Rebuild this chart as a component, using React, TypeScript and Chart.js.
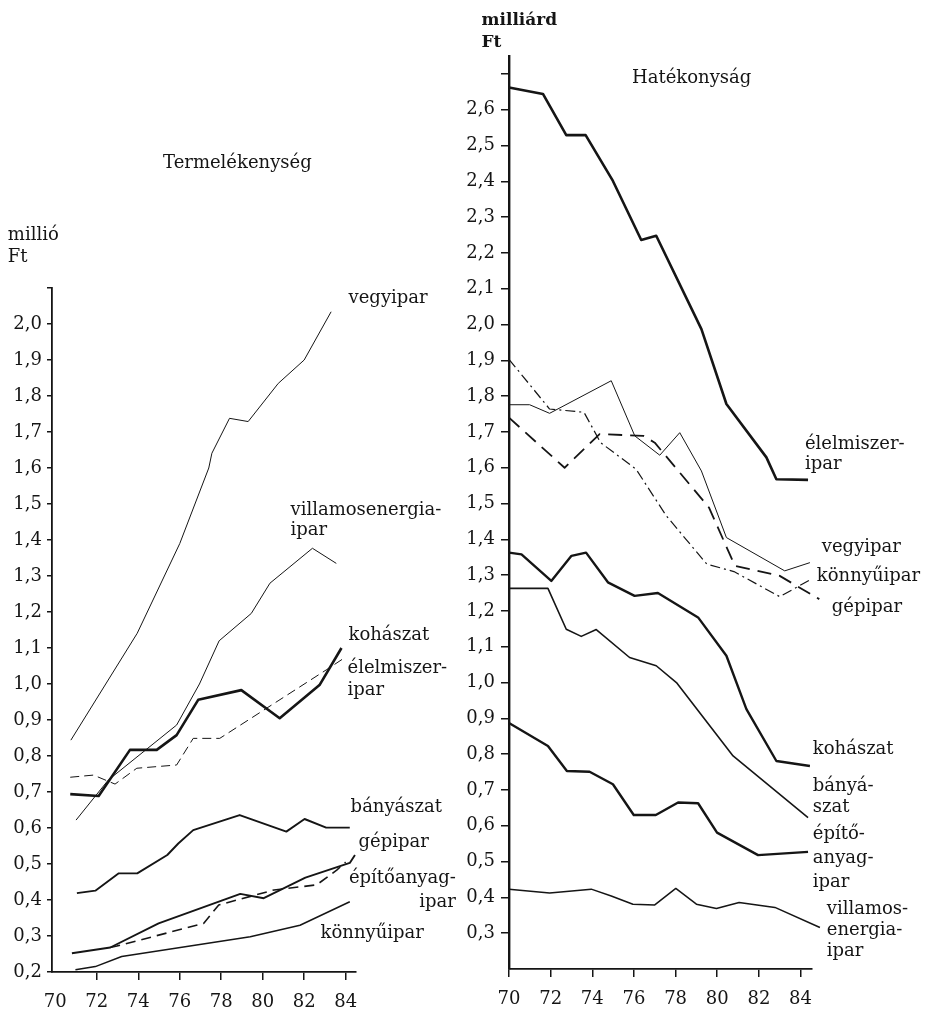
import React, { useEffect, useRef } from "react";
import { Chart, registerables } from "chart.js";

Chart.register(...registerables);

const FONT = "'DejaVu Serif', 'Liberation Serif', serif";
const INK = "#151515";

// ---------- Left panel: Termelékenység (millió Ft) ----------
const leftVegyiparX = [70.75, 73.95, 76.0, 77.4, 77.55, 78.4, 79.3, 80.75, 82.0, 83.3];
const leftVegyiparY = [0.844, 1.141, 1.39, 1.6, 1.641, 1.738, 1.729, 1.835, 1.9, 2.034];

const leftVillamosX = [71.0, 72.55, 75.85, 76.95, 77.9, 79.45, 80.35, 82.4, 83.55];
const leftVillamosY = [0.622, 0.733, 0.886, 1.0, 1.12, 1.196, 1.28, 1.377, 1.335];

const leftKohaszatX = [70.72, 72.09, 73.6, 74.89, 75.85, 76.89, 78.97, 80.82, 82.74, 83.8];
const leftKohaszatY = [0.694, 0.689, 0.817, 0.817, 0.858, 0.956, 0.983, 0.905, 0.997, 1.1];

const leftElelmiszerX = [70.72, 71.84, 72.88, 73.93, 75.85, 76.65, 77.93, 83.06, 83.9];
const leftElelmiszerY = [0.741, 0.747, 0.722, 0.766, 0.775, 0.849, 0.849, 1.039, 1.071];

const leftBanyaszatX = [71.04, 71.93, 73.06, 73.95, 75.4, 75.93, 76.65, 78.89, 81.14, 82.02, 83.06, 84.2];
const leftBanyaszatY = [0.419, 0.426, 0.474, 0.474, 0.525, 0.557, 0.594, 0.636, 0.59, 0.625, 0.601, 0.601];

const leftGepiparX = [70.8, 72.65, 74.98, 78.92, 80.05, 82.06, 84.2, 84.45];
const leftGepiparY = [0.252, 0.268, 0.335, 0.417, 0.405, 0.462, 0.503, 0.525];

const leftEpitoX = [72.65, 72.97, 77.15, 77.88, 80.55, 82.6, 83.57, 84.0];
const leftEpitoY = [0.268, 0.272, 0.335, 0.386, 0.428, 0.442, 0.483, 0.505];

const leftKonnyuX = [70.97, 71.93, 73.2, 79.4, 81.8, 84.2];
const leftKonnyuY = [0.206, 0.215, 0.243, 0.298, 0.33, 0.395];

const leftYTickValues = [0.2, 0.3, 0.4, 0.5, 0.6, 0.7, 0.8, 0.9, 1.0, 1.1, 1.2, 1.3, 1.4, 1.5, 1.6, 1.7, 1.8, 1.9, 2.0, 2.1];
const leftYTickLabels = ["0,2", "0,3", "0,4", "0,5", "0,6", "0,7", "0,8", "0,9", "1,0", "1,1", "1,2", "1,3", "1,4", "1,5", "1,6", "1,7", "1,8", "1,9", "2,0", ""];

// ---------- Right panel: Hatékonyság (milliárd Ft) ----------
const rightElelmiszerX = [70, 71.63, 72.75, 73.68, 74.99, 76.35, 77.07, 79.24, 80.44, 82.36, 82.84, 84.36];
const rightElelmiszerY = [2.662, 2.644, 2.529, 2.529, 2.401, 2.236, 2.248, 1.987, 1.778, 1.629, 1.568, 1.566];

const rightVegyiparX = [70, 70.99, 71.95, 74.91, 76.04, 77.24, 78.2, 79.24, 80.44, 83.24, 84.45];
const rightVegyiparY = [1.776, 1.776, 1.752, 1.843, 1.689, 1.635, 1.698, 1.591, 1.405, 1.312, 1.335];

const rightKonnyuX = [70, 72.67, 74.35, 76.45, 77.0, 79.6, 80.85, 83.0, 84.9];
const rightKonnyuY = [1.74, 1.6, 1.694, 1.689, 1.67, 1.489, 1.326, 1.298, 1.233];

const rightGepiparX = [70, 71.95, 73.6, 74.4, 76.1, 77.55, 78.5, 79.5, 80.8, 83.0, 84.4];
const rightGepiparY = [1.903, 1.764, 1.755, 1.67, 1.596, 1.466, 1.4, 1.331, 1.31, 1.24, 1.285];

const rightKohaszatX = [70, 70.6, 72.03, 73.0, 73.7, 74.75, 76.03, 77.15, 79.08, 80.44, 81.4, 82.84, 84.45];
const rightKohaszatY = [1.363, 1.358, 1.284, 1.354, 1.363, 1.28, 1.242, 1.25, 1.182, 1.075, 0.926, 0.781, 0.767];

const rightBanyaszatX = [70, 71.87, 72.75, 73.47, 74.19, 75.79, 77.07, 78.04, 80.76, 84.36];
const rightBanyaszatY = [1.263, 1.263, 1.149, 1.129, 1.148, 1.07, 1.047, 1.0, 0.795, 0.623];

const rightEpitoX = [70, 71.87, 72.78, 73.87, 74.99, 75.99, 77.05, 78.12, 79.08, 79.99, 81.96, 84.36];
const rightEpitoY = [0.887, 0.823, 0.753, 0.751, 0.716, 0.63, 0.63, 0.665, 0.663, 0.581, 0.518, 0.527];

const rightVillamosX = [70, 71.95, 73.95, 74.91, 75.95, 77.0, 78.01, 79.0, 79.96, 81.05, 82.77, 84.93];
const rightVillamosY = [0.423, 0.412, 0.423, 0.404, 0.381, 0.379, 0.425, 0.381, 0.369, 0.386, 0.372, 0.316];

const rightYTickValues = [0.3, 0.4, 0.5, 0.6, 0.7, 0.8, 0.9, 1.0, 1.1, 1.2, 1.3, 1.4, 1.5, 1.6, 1.7, 1.8, 1.9, 2.0, 2.1, 2.2, 2.3, 2.4, 2.5, 2.6, 2.7];
const rightYTickLabels = ["0,3", "0,4", "0,5", "0,6", "0,7", "0,8", "0,9", "1,0", "1,1", "1,2", "1,3", "1,4", "1,5", "1,6", "1,7", "1,8", "1,9", "2,0", "2,1", "2,2", "2,3", "2,4", "2,5", "2,6", ""];

// shared x ticks (years)
const xTickValues = [70, 72, 74, 76, 78, 80, 82, 84];
const xTickLabels = ["70", "72", "74", "76", "78", "80", "82", "84"];

type Ann = { lines: string[]; x: number; y: number; align?: CanvasTextAlign; bold?: boolean; size?: number; lh?: number };

const pts = (xs: number[], ys: number[]) => xs.map((x, i) => ({ x, y: ys[i] }));

function series(xs: number[], ys: number[], width: number, dash: number[] = []) {
  return {
    data: pts(xs, ys),
    borderColor: INK,
    borderWidth: width,
    borderDash: dash,
    pointRadius: 0,
    tension: 0,
    fill: false,
    clip: false as any,
    borderJoinStyle: "round" as CanvasLineJoin,
  };
}

const leftDatasets = () => [
  series(leftVegyiparX, leftVegyiparY, 1),
  series(leftVillamosX, leftVillamosY, 1),
  series(leftElelmiszerX, leftElelmiszerY, 1, [9, 5]),
  series(leftKohaszatX, leftKohaszatY, 2.6),
  series(leftBanyaszatX, leftBanyaszatY, 1.9),
  series(leftEpitoX, leftEpitoY, 1.6, [10, 6]),
  series(leftGepiparX, leftGepiparY, 1.9),
  series(leftKonnyuX, leftKonnyuY, 1.5),
];

const rightDatasets = () => [
  series(rightElelmiszerX, rightElelmiszerY, 2.6),
  series(rightVegyiparX, rightVegyiparY, 1),
  series(rightKonnyuX, rightKonnyuY, 1.8, [14, 8]),
  series(rightGepiparX, rightGepiparY, 1.2, [10, 4, 2, 4]),
  series(rightKohaszatX, rightKohaszatY, 2.4),
  series(rightBanyaszatX, rightBanyaszatY, 1.6),
  series(rightEpitoX, rightEpitoY, 2.4),
  series(rightVillamosX, rightVillamosY, 1.5),
];

const leftAnnotations: Ann[] = [
  { lines: ["Termelékenység"], x: 78.78, y: 2.447, align: "center" },
  { lines: ["millió", "Ft"], x: 67.71, y: 2.247, lh: 22 },
  { lines: ["vegyipar"], x: 84.14, y: 2.072 },
  { lines: ["villamosenergia-", "ipar"], x: 81.34, y: 1.483, lh: 20 },
  { lines: ["kohászat"], x: 84.14, y: 1.136 },
  { lines: ["élelmiszer-", "ipar"], x: 84.09, y: 1.044, lh: 22 },
  { lines: ["bányászat"], x: 84.24, y: 0.658 },
  { lines: ["gépipar"], x: 84.62, y: 0.561 },
  { lines: ["építőanyag-", "ipar"], x: 89.31, y: 0.461, align: "right", lh: 24 },
  { lines: ["könnyűipar"], x: 82.79, y: 0.308 },
];

const rightAnnotations: Ann[] = [
  { lines: ["milliárd", "Ft"], x: 68.68, y: 2.85, bold: true, size: 17, lh: 22 },
  { lines: ["Hatékonyság"], x: 78.77, y: 2.688, align: "center" },
  { lines: ["élelmiszer-", "ipar"], x: 84.21, y: 1.666, lh: 20 },
  { lines: ["vegyipar"], x: 85.02, y: 1.378 },
  { lines: ["könnyűipar"], x: 84.78, y: 1.297 },
  { lines: ["gépipar"], x: 85.5, y: 1.211 },
  { lines: ["kohászat"], x: 84.59, y: 0.814 },
  { lines: ["bányá-", "szat"], x: 84.59, y: 0.711, lh: 21 },
  { lines: ["építő-", "anyag-", "ipar"], x: 84.59, y: 0.577, lh: 24 },
  { lines: ["villamos-", "energia-", "ipar"], x: 85.26, y: 0.367, lh: 21 },
];

const labelPlugin = {
  id: "seriesLabels",
  afterDraw(chart: any, _args: any, opts: any) {
    const { ctx, scales } = chart;
    const xs = scales.x;
    const ys = scales.y;
    ctx.save();
    ctx.fillStyle = INK;
    ctx.textBaseline = "middle";
    for (const a of (opts.items || []) as Ann[]) {
      ctx.font = `${a.bold ? "bold " : ""}${a.size ?? 18}px ${FONT}`;
      ctx.textAlign = a.align ?? "left";
      const px = xs.getPixelForValue(a.x);
      const py = ys.getPixelForValue(a.y);
      a.lines.forEach((t, i) => ctx.fillText(t, px, py + i * (a.lh ?? 21)));
    }
    ctx.restore();
  },
};

type PanelSpec = {
  datasets: any[];
  annotations: Ann[];
  xMin: number;
  xMax: number;
  yMin: number;
  yMax: number;
  yTicks: number[];
  yLabels: string[];
  yAxisWidth: number;
  xAxisHeight: number;
  padding: { top: number; right: number; bottom: number; left: number };
  yTickLen: number;
  yPad: number;
  yBorder: number;
  xBorder: number;
  hideFirstXTick: boolean;
};

function buildConfig(p: PanelSpec): any {
  const tickFont = { family: FONT, size: 18 };
  return {
    type: "line",
    data: { datasets: p.datasets },
    plugins: [labelPlugin],
    options: {
      animation: false,
      responsive: false,
      maintainAspectRatio: false,
      events: [],
      layout: { padding: p.padding },
      plugins: {
        legend: { display: false },
        tooltip: { enabled: false },
        title: { display: false },
        seriesLabels: { items: p.annotations },
      },
      scales: {
        x: {
          type: "linear",
          min: p.xMin,
          max: p.xMax,
          afterBuildTicks: (s: any) => {
            s.ticks = xTickValues.map((v) => ({ value: v }));
          },
          afterFit: (s: any) => {
            s.height = p.xAxisHeight;
          },
          ticks: {
            autoSkip: false,
            maxRotation: 0,
            minRotation: 0,
            padding: 12,
            color: INK,
            font: tickFont,
            callback: (v: number) => {
              const i = xTickValues.findIndex((t) => Math.abs(t - v) < 1e-6);
              return i >= 0 ? xTickLabels[i] : "";
            },
          },
          grid: {
            drawOnChartArea: false,
            drawTicks: true,
            tickLength: 8,
            lineWidth: 1.5,
            color: (c: any) =>
              p.hideFirstXTick && c.tick && Math.abs(c.tick.value - 70) < 1e-6 ? "rgba(0,0,0,0)" : INK,
          },
          border: { display: true, color: INK, width: p.xBorder },
        },
        y: {
          type: "linear",
          min: p.yMin,
          max: p.yMax,
          afterBuildTicks: (s: any) => {
            s.ticks = p.yTicks.map((v) => ({ value: v }));
          },
          afterFit: (s: any) => {
            s.width = p.yAxisWidth;
          },
          ticks: {
            autoSkip: false,
            padding: p.yPad,
            color: INK,
            font: tickFont,
            callback: (v: number) => {
              const i = p.yTicks.findIndex((t) => Math.abs(t - v) < 1e-6);
              return i >= 0 ? p.yLabels[i] : "";
            },
          },
          grid: {
            drawOnChartArea: false,
            drawTicks: true,
            tickLength: p.yTickLen,
            lineWidth: 1.5,
            color: INK,
          },
          border: { display: true, color: INK, width: p.yBorder },
        },
      },
    },
  };
}

function Panel(props: { spec: () => PanelSpec; left: number; width: number; height: number }) {
  const ref = useRef<HTMLCanvasElement | null>(null);
  useEffect(() => {
    if (!ref.current) return;
    const chart = new Chart(ref.current, buildConfig(props.spec()));
    return () => chart.destroy();
  }, []);
  return (
    <canvas
      ref={ref}
      width={props.width}
      height={props.height}
      style={{ position: "absolute", left: props.left, top: 0, width: props.width, height: props.height }}
    />
  );
}

const leftSpec = (): PanelSpec => ({
  datasets: leftDatasets(),
  annotations: leftAnnotations,
  xMin: 69.84,
  xMax: 84.5,
  yMin: 0.2,
  yMax: 2.1,
  yTicks: leftYTickValues,
  yLabels: leftYTickLabels,
  yAxisWidth: 52,
  xAxisHeight: 37,
  padding: { top: 288, right: 124, bottom: 0, left: 0 },
  yTickLen: 5,
  yPad: 5,
  yBorder: 1.8,
  xBorder: 1.8,
  hideFirstXTick: true,
});

const rightSpec = (): PanelSpec => ({
  datasets: rightDatasets(),
  annotations: rightAnnotations,
  xMin: 70,
  xMax: 84.55,
  yMin: 0.2,
  yMax: 2.75,
  yTicks: rightYTickValues,
  yLabels: rightYTickLabels,
  yAxisWidth: 59,
  xAxisHeight: 40,
  padding: { top: 56, right: 119, bottom: 0, left: 0 },
  yTickLen: 8,
  yPad: 6,
  yBorder: 2.4,
  xBorder: 1.8,
  hideFirstXTick: false,
});

export default function App() {
  return (
    <div style={{ position: "fixed", left: 0, top: 0, width: 931, height: 1009, background: "#fff", overflow: "hidden" }}>
      <Panel spec={leftSpec} left={0} width={480} height={1009} />
      <Panel spec={rightSpec} left={450} width={481} height={1009} />
    </div>
  );
}
